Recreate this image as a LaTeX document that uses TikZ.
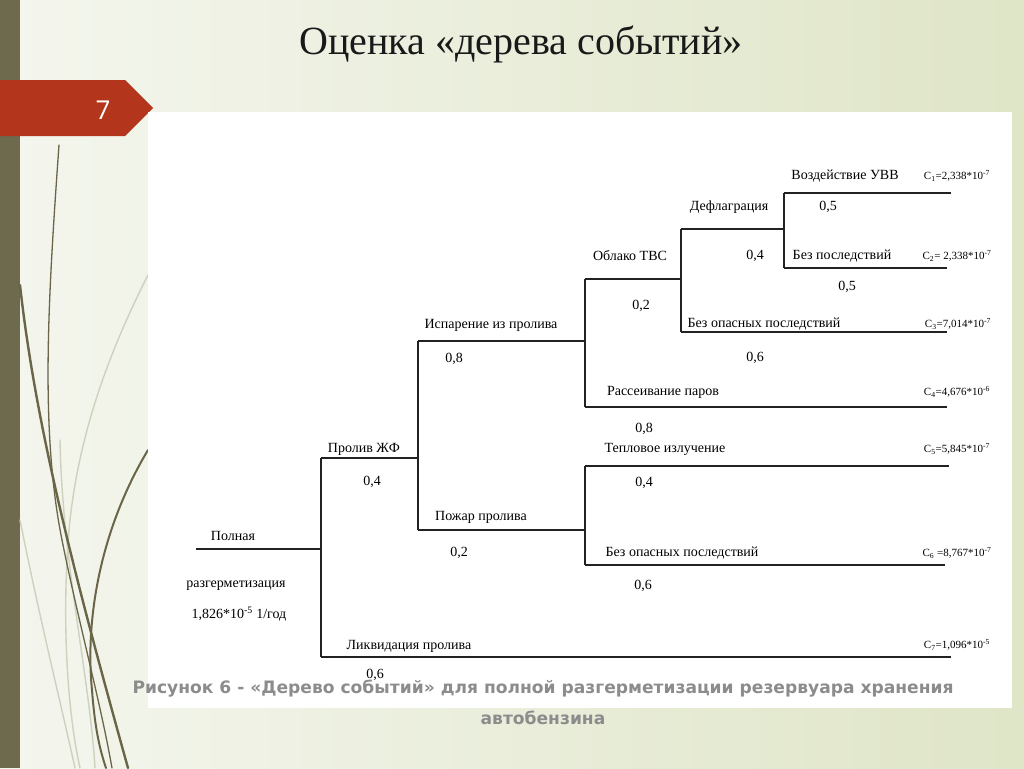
\documentclass[tikz,border=0pt]{standalone}
\usepackage{fontspec}
\setmainfont{Liberation Serif}
\newfontfamily\capfont{DejaVu Sans}
\newfontfamily\numfont{Open Sans}
\definecolor{bgl}{HTML}{F4F6EE}
\definecolor{bgr}{HTML}{DFE5C7}
\definecolor{barc}{HTML}{6E6A4E}
\definecolor{ribbon}{HTML}{B3351C}
\definecolor{olive}{HTML}{6B6548}
\definecolor{pale}{HTML}{CDD1BE}
\definecolor{capgray}{HTML}{8C8C8C}
\definecolor{treeline}{HTML}{222222}
\tikzset{
  lbl/.style={font=\fontsize{14}{16}\selectfont, inner sep=0pt, text=black},
  prob/.style={font=\fontsize{14}{16}\selectfont, inner sep=0pt, text=black},
  cval/.style={font=\fontsize{11}{12}\selectfont, inner sep=0pt, text=black},
  tree/.style={draw=treeline, line width=1.2pt},
  deco/.style={draw=olive, line cap=round},
  decopale/.style={draw=pale, line cap=round, line width=1.4pt},
  captext/.style={font=\capfont\bfseries\fontsize{17.1}{19}\selectfont, text=capgray, inner sep=0pt}
}
\begin{document}
\begin{tikzpicture}[x=1pt,y=-1pt]
\useasboundingbox (0,0) rectangle (1024,768);
% background
\shade[left color=bgl, right color=bgr] (0,0) rectangle (1024,768);
\fill[barc] (0,0) rectangle (20,768);
% decorative curves
\draw[decopale] (148,275) .. controls (110,350) and (80,430) .. (70,520) .. controls (62,600) and (65,700) .. (80,768);
\draw[decopale] (20,520) .. controls (40,620) and (60,700) .. (75,768);
\draw[decopale] (60,440) .. controls (62,560) and (90,680) .. (95,768);
\draw[deco, line width=1.3pt] (59,145) .. controls (48,300) and (40,430) .. (62,540) .. controls (78,620) and (100,700) .. (112,768);
\draw[deco, line width=2.4pt] (20,285) .. controls (35,420) and (70,560) .. (128,768);
\draw[deco, line width=2pt] (148,450) .. controls (100,530) and (85,620) .. (92,690) .. controls (95,730) and (100,750) .. (106,768);
% ribbon
\fill[ribbon] (0,80) -- (125,80) -- (153,108) -- (125,136) -- (0,136) -- cycle;
\node[text=white, font=\numfont\fontsize{26}{28}\selectfont, inner sep=0pt] (num) at (103,110) {7};
% title
\node[font=\fontsize{40}{44}\selectfont, inner sep=0pt, text={black!90}] (title) at (521,44) {Оценка «дерева событий»};
% white panel
\fill[white] (148,112) rectangle (1012,708);
% tree coordinates
\coordinate (r0) at (196,549);
\coordinate (r1) at (321,549);
\coordinate (p1) at (321,458);
\coordinate (p2) at (418,458);
\coordinate (l1) at (321,657);
\coordinate (l2) at (951,657);
\coordinate (i1) at (418,341);
\coordinate (i2) at (586,341);
\coordinate (f1) at (418,530);
\coordinate (f2) at (585,530);
\coordinate (o1) at (585,279);
\coordinate (o2) at (681,279);
\coordinate (ra1) at (585,407);
\coordinate (ra2) at (947,407);
\coordinate (d1) at (681,229);
\coordinate (d2) at (784,229);
\coordinate (b1) at (681,332);
\coordinate (b2) at (947,332);
\coordinate (v1) at (784,193);
\coordinate (v2) at (951,193);
\coordinate (n1) at (784,268);
\coordinate (n2) at (947,268);
\coordinate (t1) at (585,466);
\coordinate (t2) at (949,466);
\coordinate (s1) at (585,565);
\coordinate (s2) at (945,565);
% tree lines
\draw[tree] (r0) -- (r1);
\draw[tree] (p1) -- (l1);
\draw[tree] (p1) -- (p2);
\draw[tree] (l1) -- (l2);
\draw[tree] (i1) -- (f1);
\draw[tree] (i1) -- (i2);
\draw[tree] (f1) -- (f2);
\draw[tree] (o1) -- (ra1);
\draw[tree] (o1) -- (o2);
\draw[tree] (ra1) -- (ra2);
\draw[tree] (d1) -- (b1);
\draw[tree] (d1) -- (d2);
\draw[tree] (b1) -- (b2);
\draw[tree] (v1) -- (n1);
\draw[tree] (v1) -- (v2);
\draw[tree] (n1) -- (n2);
\draw[tree] (t1) -- (s1);
\draw[tree] (t1) -- (t2);
\draw[tree] (s1) -- (s2);
% labels
\node[lbl] (tv) at (845,176) {Воздействие УВВ};
\node[lbl] (td) at (729,207) {Дефлаграция};
\node[prob] (q1) at (828,207) {0,5};
\node[lbl] (to) at (630,256) {Облако ТВС};
\node[prob] (q2) at (755,256) {0,4};
\node[lbl] (tn) at (842,256) {Без последствий};
\node[prob] (q3) at (847,287) {0,5};
\node[prob] (q4) at (641,306) {0,2};
\node[lbl] (ti) at (491,325) {Испарение из пролива};
\node[lbl] (tb) at (764,324) {Без опасных последствий};
\node[prob] (q5) at (454,359) {0,8};
\node[prob] (q6) at (755,358) {0,6};
\node[lbl] (tr) at (663,392) {Рассеивание паров};
\node[prob] (q7) at (644,429) {0,8};
\node[lbl] (tp) at (364,449) {Пролив ЖФ};
\node[lbl] (tt) at (665,449) {Тепловое излучение};
\node[prob] (q8) at (372,482) {0,4};
\node[prob] (q9) at (644,483) {0,4};
\node[lbl] (tf) at (481,517) {Пожар пролива};
\node[lbl] (t0) at (233,536) {Полная};
\node[prob] (q10) at (459,553) {0,2};
\node[lbl] (ts) at (682,553) {Без опасных последствий};
\node[lbl] (t0b) at (236,586) {разгерметизация};
\node[prob] (q11) at (643,586) {0,6};
\node[lbl] (t0c) at (239,614) {1,826*10\textsuperscript{-5} 1/год};
\node[lbl] (tl) at (409,646) {Ликвидация пролива};
\node[prob] (q12) at (375,675) {0,6};
\node[cval] (c1) at (957,176) {C\textsubscript{1}=2,338*10\textsuperscript{-7}};
\node[cval] (c2) at (957,256) {C\textsubscript{2}= 2,338*10\textsuperscript{-7}};
\node[cval] (c3) at (958,324) {C\textsubscript{3}=7,014*10\textsuperscript{-7}};
\node[cval] (c4) at (957,392) {C\textsubscript{4}=4,676*10\textsuperscript{-6}};
\node[cval] (c5) at (957,449) {C\textsubscript{5}=5,845*10\textsuperscript{-7}};
\node[cval] (c6) at (957,553) {C\textsubscript{6} =8,767*10\textsuperscript{-7}};
\node[cval] (c7) at (957,645) {C\textsubscript{7}=1,096*10\textsuperscript{-5}};
% caption
\node[captext] (cap1) at (543,689) {Рисунок 6 - «Дерево событий» для полной разгерметизации резервуара хранения};
\node[captext] (cap2) at (543,718) {автобензина};
\end{tikzpicture}
\end{document}
